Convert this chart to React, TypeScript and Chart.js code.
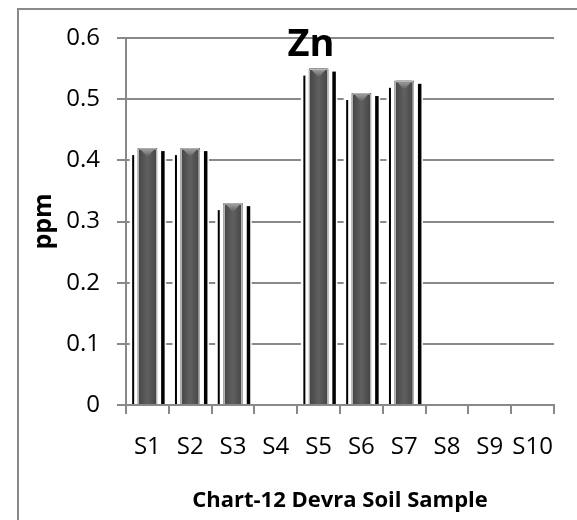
import React, { useEffect, useRef } from "react";
import { Chart, registerables } from "chart.js";

Chart.register(...registerables);

const categories = ["S1", "S2", "S3", "S4", "S5", "S6", "S7", "S8", "S9", "S10"];
const znValues: (number | null)[] = [0.42, 0.42, 0.33, null, 0.55, 0.51, 0.53, null, null, null];
const yTicks = { min: 0, max: 0.6, step: 0.1 };
const chartTitle = "Zn";
const xTitle = "Chart-12 Devra Soil Sample";
const yTitle = "ppm";

const GRID = "#898989";
const FONT = "'Open Sans', sans-serif";

const decoPlugin = {
  id: "deco",
  beforeDraw(chart: any) {
    const ctx = chart.ctx;
    ctx.save();
    ctx.fillStyle = "#ffffff";
    ctx.fillRect(0, 0, chart.width, chart.height);
    ctx.fillStyle = GRID;
    ctx.fillRect(17, 8, chart.width, 2);
    ctx.fillRect(17, 8, 2, chart.height);
    ctx.restore();
  },
  beforeDatasetsDraw(chart: any) {
    const ctx = chart.ctx;
    const meta = chart.getDatasetMeta(0);
    ctx.save();
    meta.data.forEach((bar: any, i: number) => {
      if (znValues[i] == null) return;
      const { x, y, base, width } = bar.getProps(["x", "y", "base", "width"], true);
      const l = x - width / 2;
      const r = x + width / 2;
      ctx.fillStyle = "#ffffff";
      ctx.fillRect(l - 8, y - 1, width + 17, base - y);
      ctx.fillStyle = "#000000";
      ctx.fillRect(l - 5.5, y + 7, 2, base - y - 7);
      ctx.fillRect(r + 4, y + 3, 3.5, base - y - 3);
    });
    ctx.restore();
  },
  afterDatasetsDraw(chart: any) {
    const ctx = chart.ctx;
    const meta = chart.getDatasetMeta(0);
    ctx.save();
    meta.data.forEach((bar: any, i: number) => {
      if (znValues[i] == null) return;
      const { x, y, base, width } = bar.getProps(["x", "y", "base", "width"], true);
      const l = x - width / 2;
      const g = ctx.createLinearGradient(l, 0, l + width, 0);
      g.addColorStop(0, "#b4b4b4");
      g.addColorStop(0.07, "#b4b4b4");
      g.addColorStop(0.08, "#484848");
      g.addColorStop(0.2, "#4f4f4f");
      g.addColorStop(0.5, "#606060");
      g.addColorStop(0.8, "#4f4f4f");
      g.addColorStop(0.92, "#484848");
      g.addColorStop(0.93, "#b4b4b4");
      g.addColorStop(1, "#b4b4b4");
      ctx.fillStyle = g;
      ctx.beginPath();
      ctx.roundRect(l, y, width, base - y, [3, 3, 0, 0]);
      ctx.fill();
      ctx.fillStyle = "#b8b8b8";
      ctx.fillRect(l + 1, y, width - 2, 1.5);
      const tg = ctx.createLinearGradient(0, y + 1, 0, y + 9);
      tg.addColorStop(0, "#a0a0a0");
      tg.addColorStop(1, "#5a5a5a");
      ctx.fillStyle = tg;
      ctx.beginPath();
      ctx.moveTo(l + 3, y + 1.5);
      ctx.lineTo(l + width - 3, y + 1.5);
      ctx.lineTo(x, y + 9);
      ctx.closePath();
      ctx.fill();
    });
    ctx.fillStyle = "#000000";
    ctx.font = `bold 38px ${FONT}`;
    ctx.textAlign = "center";
    ctx.textBaseline = "middle";
    ctx.fillText(chartTitle, 311, 45);
    ctx.restore();
  },
};

export default function App() {
  const ref = useRef<HTMLCanvasElement | null>(null);
  useEffect(() => {
    if (!ref.current) return;
    const chart = new Chart(ref.current, {
      type: "bar",
      data: {
        labels: categories,
        datasets: [
          {
            label: chartTitle,
            data: znValues,
            backgroundColor: "#575757",
            borderWidth: 0,
            categoryPercentage: 1,
            barPercentage: 0.455,
          },
        ],
      },
      plugins: [decoPlugin],
      options: {
        responsive: false,
        animation: false,
        devicePixelRatio: 1,
        layout: { padding: { left: 0, top: 38, right: 23, bottom: 0 } },
        plugins: {
          legend: { display: false },
          title: { display: false },
          tooltip: { enabled: false },
        },
        scales: {
          x: {
            z: 1,
            afterFit: (s: any) => {
              s.height = 115;
            },
            grid: {
              display: true,
              drawOnChartArea: false,
              drawTicks: true,
              tickLength: 9,
              color: GRID,
              lineWidth: 2,
              offset: true,
            },
            border: { display: true, color: GRID, width: 2 },
            ticks: {
              color: "#000000",
              font: { family: FONT, size: 24 },
              padding: 19,
              maxRotation: 0,
              autoSkip: false,
            },
            title: {
              display: true,
              text: xTitle,
              color: "#000000",
              font: { family: FONT, size: 22, weight: "bold" },
              padding: { top: 0, bottom: 6 },
            },
          },
          y: {
            min: yTicks.min,
            max: yTicks.max,
            afterFit: (s: any) => {
              s.width = 126;
            },
            grid: {
              color: GRID,
              lineWidth: 2,
              tickLength: 9,
              drawTicks: true,
            },
            border: { display: true, color: GRID, width: 2 },
            ticks: {
              stepSize: yTicks.step,
              color: "#000000",
              font: { family: FONT, size: 24 },
              padding: 17,
            },
            title: {
              display: true,
              text: yTitle,
              color: "#000000",
              font: { family: FONT, size: 25, weight: "bold" },
              padding: { top: 29, bottom: 0 },
            },
          },
        },
      },
    });
    return () => chart.destroy();
  }, []);
  return (
    <div style={{ position: "absolute", left: 0, top: 0, width: 577, height: 520 }}>
      <canvas ref={ref} width={577} height={520} />
    </div>
  );
}
